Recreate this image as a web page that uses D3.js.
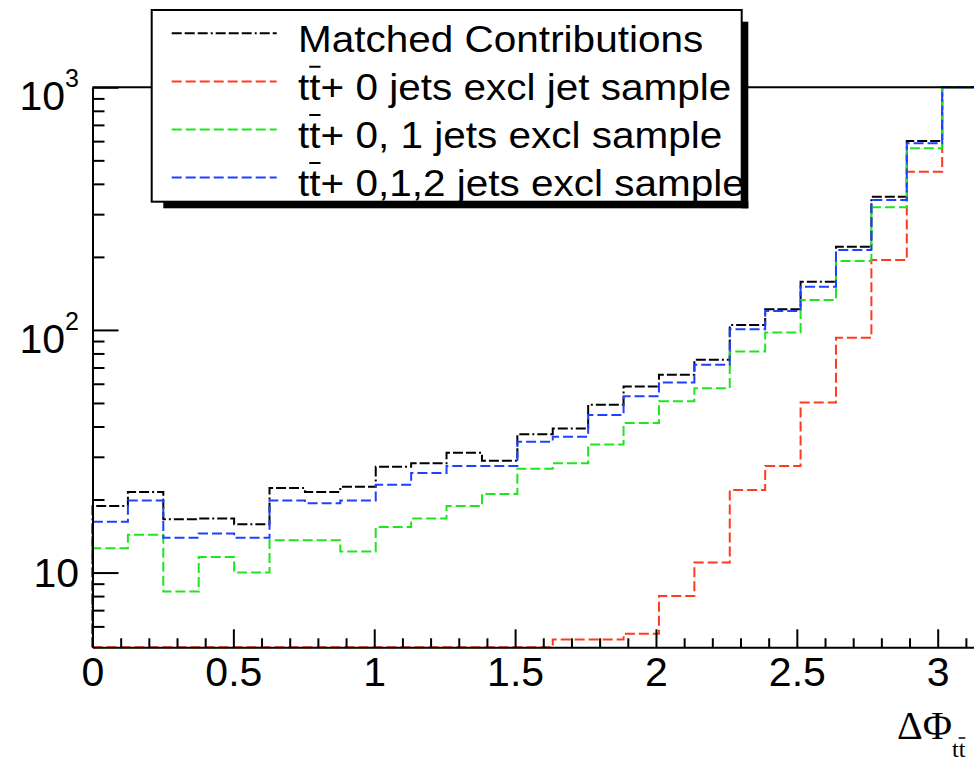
<!DOCTYPE html>
<html>
<head>
<meta charset="utf-8">
<script src="https://cdn.jsdelivr.net/npm/d3@7"></script>
<style>
  body { margin: 0; background: #fff; }
  svg { display: block; }
  text { font-family: "Liberation Sans", Arial, Helvetica, sans-serif; fill: #000; }
</style>
</head>
<body>
<svg id="chart" width="974" height="761"></svg>
<script>
// Histogram binning: 25 bins over [0, pi]
const binEdges = [0, 0.1257, 0.2513, 0.3770, 0.5027, 0.6283, 0.7540, 0.8796, 1.0053,
  1.1310, 1.2566, 1.3823, 1.5080, 1.6336, 1.7593, 1.8850, 2.0106, 2.1363, 2.2619,
  2.3876, 2.5133, 2.6389, 2.7646, 2.8903, 3.0159, 3.1416];

// Bin contents per sample
const matched = [18.8, 21.5, 16.6, 16.7, 15.8, 22.3, 21.5, 22.6, 27.3, 28.2, 31.2, 28.9,
  37.2, 39.2, 49.2, 58.4, 65.4, 75.4, 104.8, 121.7, 158.1, 220.4, 354.2, 600.6, 1060];
const jets0 = [0, 0, 0, 0, 0, 0, 0, 0, 0, 0, 0, 0, 0, 5.3, 5.3, 5.6, 8.0, 11.0, 21.9,
  27.5, 50.2, 92.9, 194.3, 449, 1020];
const jets01 = [12.6, 14.3, 8.35, 11.6, 10.0, 13.6, 13.6, 12.2, 15.4, 16.7, 18.8, 21.1,
  26.8, 28.2, 33.7, 41.3, 50.8, 57.5, 81.4, 97.5, 132.9, 192.4, 320.3, 560.8, 1010];
const jets012 = [16.2, 19.8, 13.9, 14.5, 13.9, 19.8, 19.3, 19.8, 23.0, 25.7, 27.5, 27.5,
  34.6, 36.3, 44.6, 53.3, 60.7, 71.8, 100.7, 119.8, 150.8, 213.6, 343.4, 588, 1040];

const seriesNames = ["Matched Contributions", "+ 0 jets excl jet sample",
  "+ 0, 1 jets excl sample", "+ 0,1,2 jets excl sample"];
const seriesHasTT = [false, true, true, true];

// Axis ticks
const xTickValues = [0, 0.5, 1, 1.5, 2, 2.5, 3];
const xTickLabels = ["0", "0.5", "1", "1.5", "2", "2.5", "3"];
const xMinorTicks = [0.1, 0.2, 0.3, 0.4, 0.6, 0.7, 0.8, 0.9, 1.1, 1.2, 1.3, 1.4, 1.6, 1.7,
  1.8, 1.9, 2.1, 2.2, 2.3, 2.4, 2.6, 2.7, 2.8, 2.9, 3.1];
const yTickValues = [10, 100, 1000];
const yTickBase = ["10", "10", "10"];
const yTickExp = ["", "2", "3"];
const yMinorTicks = [6, 7, 8, 9, 20, 30, 40, 50, 60, 70, 80, 90,
  200, 300, 400, 500, 600, 700, 800, 900];

const styles = [
  { color: "#000000", dash: "10,3,10,3,10,3,2,3" },
  { color: "#ff3b1f", dash: "10,4" },
  { color: "#1ee61e", dash: "10,4" },
  { color: "#2040ff", dash: "10,4" }
];
const allSeries = [matched, jets0, jets01, jets012];

const svg = d3.select("#chart");
const plot = { left: 92.5, right: 977.6, top: 87.3, bottom: 647.3 };

const x = d3.scaleLinear().domain([0, Math.PI]).range([plot.left, plot.right]);
const y = d3.scaleLog().domain([4.92, 1000]).range([plot.bottom, plot.top]).clamp(true);
const yMin = y.domain()[0];

// Histogram outlines
const line = d3.line().x(d => x(d[0])).y(d => y(d[1])).curve(d3.curveStepAfter);
allSeries.forEach((vals, k) => {
  const pts = [[binEdges[0], yMin]];
  vals.forEach((v, i) => pts.push([binEdges[i], Math.max(v, yMin)]));
  pts.push([binEdges[binEdges.length - 1], Math.max(vals[vals.length - 1], yMin)]);
  pts.push([binEdges[binEdges.length - 1], yMin]);
  svg.append("path")
    .attr("d", line(pts))
    .attr("fill", "none")
    .attr("stroke", styles[k].color)
    .attr("stroke-width", 2)
    .attr("stroke-dasharray", styles[k].dash);
});

// Frame (top and right)
svg.append("path")
  .attr("d", `M${plot.left},${plot.top}H${plot.right}V${plot.bottom}`)
  .attr("fill", "none").attr("stroke", "#000").attr("stroke-width", 2);

// Bottom axis
const gx = svg.append("g").attr("transform", `translate(0,${plot.bottom})`);
gx.call(d3.axisBottom(x).tickValues(xTickValues).tickSize(-18).tickSizeOuter(0)
  .tickPadding(10).tickFormat((d, i) => xTickLabels[i]));
const gxMinor = svg.append("g").attr("transform", `translate(0,${plot.bottom})`);
gxMinor.call(d3.axisBottom(x).tickValues(xMinorTicks).tickSize(-9).tickSizeOuter(0).tickFormat(""));
gxMinor.select(".domain").remove();
gx.selectAll("text").style("font-size", "41px")
  .style("font-family", '"Liberation Sans", Arial, sans-serif').attr("fill", "#000");

// Left axis
const gy = svg.append("g").attr("transform", `translate(${plot.left},0)`);
gy.call(d3.axisLeft(y).tickValues(yTickValues).tickSize(-26).tickSizeOuter(0).tickFormat(""));
const gyMinor = svg.append("g").attr("transform", `translate(${plot.left},0)`);
gyMinor.call(d3.axisLeft(y).tickValues(yMinorTicks).tickSize(-12).tickSizeOuter(0).tickFormat(""));
gyMinor.select(".domain").remove();

[gx, gxMinor, gy, gyMinor].forEach(g => {
  g.selectAll("path, line").attr("stroke", "#000").attr("stroke-width", 2);
});

yTickValues.forEach((v, i) => {
  const hasExp = yTickExp[i] !== "";
  const t = svg.append("text")
    .attr("x", 79)
    .attr("y", y(v) + (hasExp ? 23 : 14))
    .attr("text-anchor", "end")
    .style("font-size", "41px");
  t.append("tspan").text(yTickBase[i]);
  if (hasExp) {
    t.append("tspan").attr("dy", -23).style("font-size", "25px").text(yTickExp[i]);
  }
});

// Axis title
const title = svg.append("text")
  .attr("x", 897).attr("y", 739)
  .style("font-family", '"Liberation Serif", "Times New Roman", serif')
  .style("font-size", "40px");
title.append("tspan").text("ΔΦ");
title.append("tspan").attr("dy", 18).style("font-size", "24px").text("tt");

// Legend
const lg = { x: 151.7, y: 10, w: 590, h: 191.7, shadow: 6.6 };
svg.append("rect").attr("x", lg.x + lg.w).attr("y", lg.y + 11.7)
  .attr("width", lg.shadow).attr("height", lg.h - 11.7 + lg.shadow).attr("fill", "#000");
svg.append("rect").attr("x", lg.x + 11.6).attr("y", lg.y + lg.h)
  .attr("width", lg.w - 11.6 + lg.shadow).attr("height", lg.shadow).attr("fill", "#000");
svg.append("rect").attr("x", lg.x).attr("y", lg.y).attr("width", lg.w).attr("height", lg.h)
  .attr("fill", "#fff").attr("stroke", "#000").attr("stroke-width", 2);

const legendClip = svg.append("clipPath").attr("id", "legclip");
legendClip.append("rect").attr("x", lg.x).attr("y", lg.y).attr("width", lg.w).attr("height", lg.h);
const legendG = svg.append("g").attr("clip-path", "url(#legclip)");

const rowStep = 48.1;
seriesNames.forEach((name, i) => {
  const lineY = 33.3 + i * rowStep;
  const baseY = 51.7 + i * rowStep;
  legendG.append("line")
    .attr("x1", 171.7).attr("x2", 276.7).attr("y1", lineY).attr("y2", lineY)
    .attr("stroke", styles[i].color).attr("stroke-width", 2)
    .attr("stroke-dasharray", styles[i].dash);
  const g = legendG.append("g").attr("transform", `translate(298,${baseY}) scale(1.095,1)`);
  const t = g.append("text").attr("x", 0).attr("y", 0).style("font-size", "37px");
  if (seriesHasTT[i]) {
    t.append("tspan").text("tt");
    t.append("tspan").text(name);
    const x0 = t.node().getStartPositionOfChar(1).x;
    const x1 = t.node().getEndPositionOfChar(1).x;
    g.append("line").attr("x1", x0).attr("x2", x1).attr("y1", -33).attr("y2", -33)
      .attr("stroke", "#000").attr("stroke-width", 2);
  } else {
    t.text(name);
  }
});

// Bar over the second t in the axis-title subscript
{
  const node = title.node();
  const n = node.getNumberOfChars();
  const s = node.getStartPositionOfChar(n - 1);
  const e = node.getEndPositionOfChar(n - 1);
  svg.append("line").attr("x1", s.x).attr("x2", e.x).attr("y1", s.y - 19).attr("y2", s.y - 19)
    .attr("stroke", "#000").attr("stroke-width", 1.5);
}
</script>
</body>
</html>
